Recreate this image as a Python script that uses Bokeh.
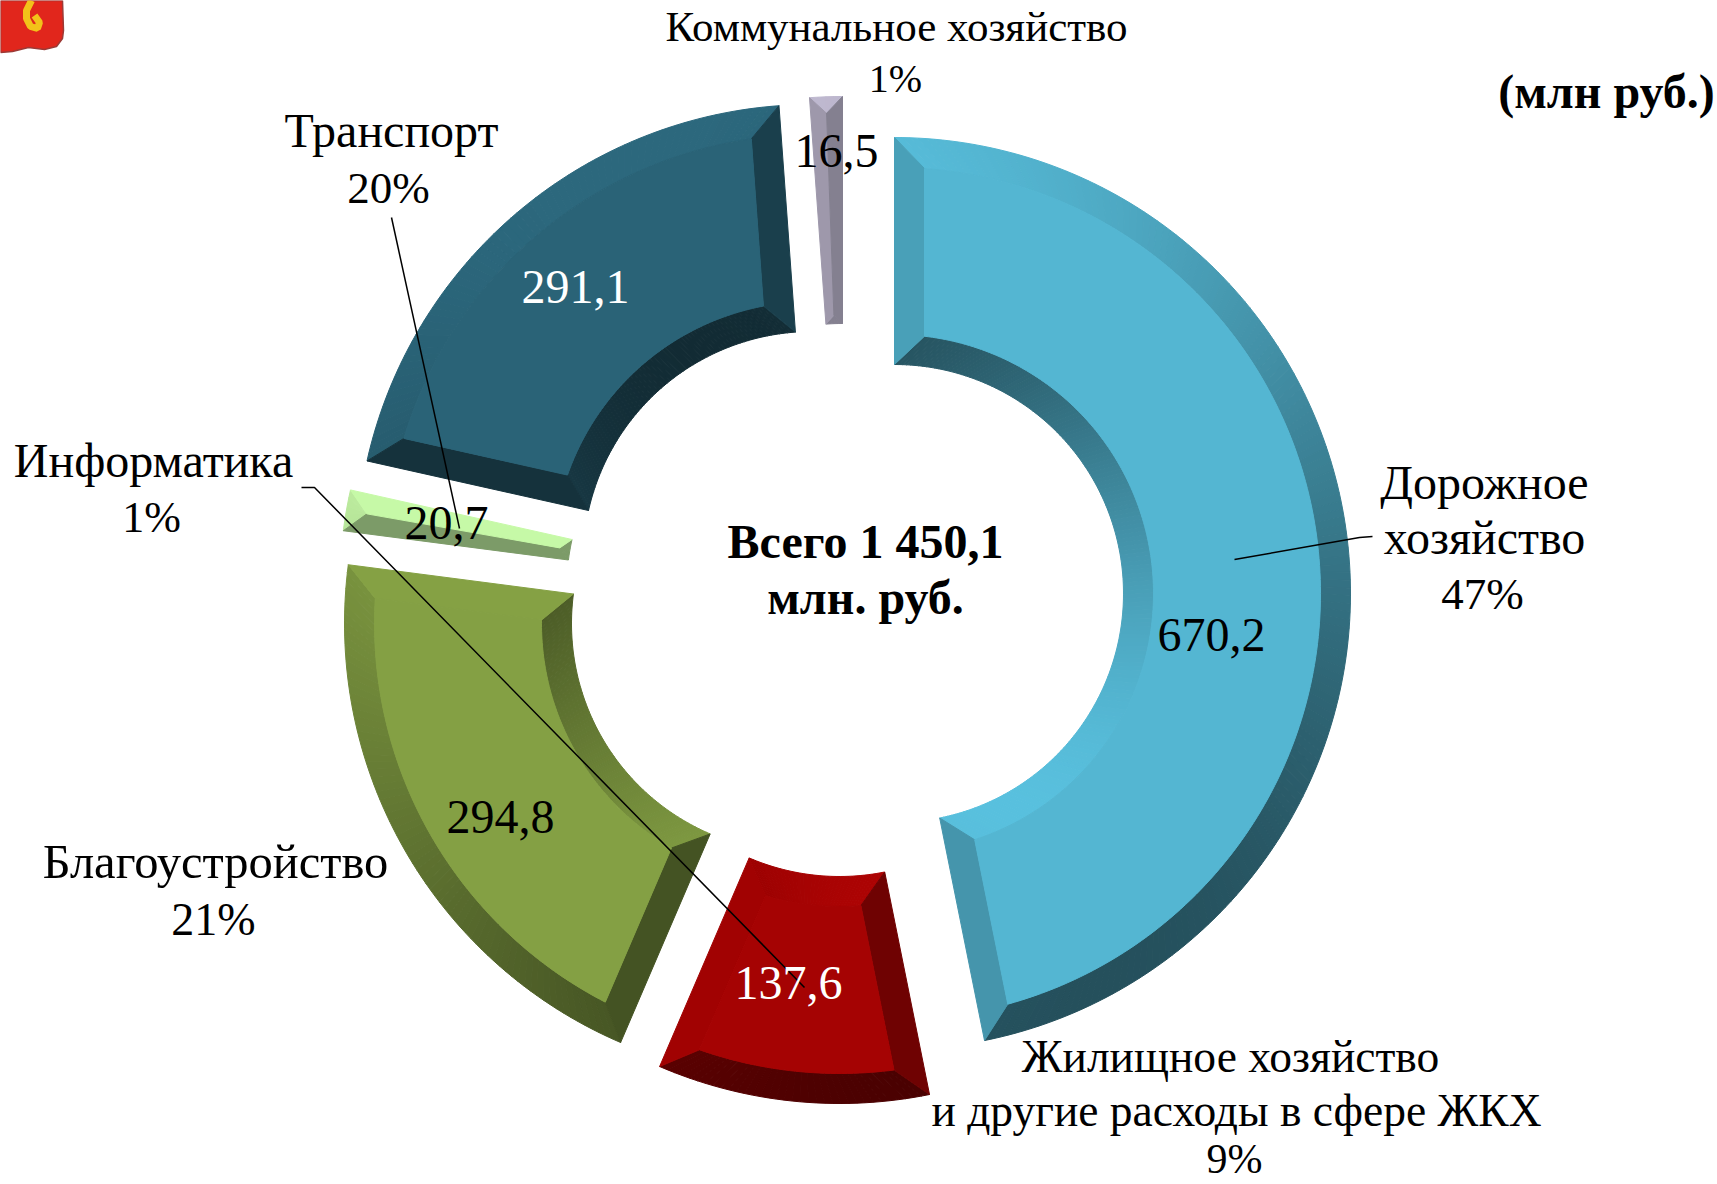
import numpy as np
from bokeh.plotting import figure
from bokeh.models import Range1d
from bokeh.core.properties import value
from bokeh.embed import file_html
from bokeh.resources import INLINE

# ---- data ----
categories = ["Дорожное хозяйство", "Жилищное хозяйство и другие расходы в сфере ЖКХ",
              "Благоустройство", "Информатика", "Транспорт", "Коммунальное хозяйство"]
amounts = [670.2, 137.6, 294.8, 20.7, 291.1, 16.5]
amount_labels = ["670,2", "137,6", "294,8", "20,7", "291,1", "16,5"]
shares = ["47%", "9%", "21%", "1%", "20%", "1%"]
total_label = "Всего 1 450,1"
total_unit = "млн. руб."
unit_label = "(млн руб.)"

# ---- style / layout (page pixels) ----
base_colors = ["#54b6d2", "#a50303", "#84a044", "#c8fba8", "#2a6377", "#b8b2c8"]
shade_floor = [0, 0, 0, 0.62, 0, 0.72]
amount_colors = ["black", "white", "black", "black", "white", "black"]
slice_centers = [(894, 593), (839, 647), (800, 623), (795, 589), (811.5, 560), (842, 552)]
amount_pos = [(1211, 634), (788, 982), (500, 816), (446, 522), (575, 286), (836, 150)]
R_OUT, R_IN, BEVEL = 456.0, 229.0, 30.0
FONT = value("Liberation Serif")


def shade(hex_color, nx, ny, floor=0.0):
    """Facet brightness from its outward normal (screen coords, y down)."""
    b = max(floor, 0.75 + 0.28 * (-ny) - 0.13 * nx)
    rgb = [int(hex_color[i:i + 2], 16) for i in (1, 3, 5)]
    rgb = [int(min(255, max(0, c * b))) for c in rgb]
    return "#%02x%02x%02x" % tuple(rgb)


def pt(c, rho, th):
    return c[0] + rho * np.sin(th), c[1] - rho * np.cos(th)


xs, ys, cols = [], [], []


def add(poly, col):
    xs.append([float(q[0]) for q in poly])
    ys.append([float(q[1]) for q in poly])
    cols.append(col)


total = sum(amounts)
start = 0.0
for val, c, base, fl in zip(amounts, slice_centers, base_colors, shade_floor):
    t1 = start
    t2 = start + val / total * 2 * np.pi
    start = t2
    hw = (t2 - t1) / 2
    bo, bi = min(BEVEL, R_OUT * hw), min(BEVEL, R_IN * hw)
    rf_o, rf_i = R_OUT - bo, R_IN + bi

    def off(rho):
        return min(np.arcsin(BEVEL / rho), hw)

    fo1, fo2 = t1 + off(rf_o), t2 - off(rf_o)
    fi1, fi2 = t1 + off(rf_i), t2 - off(rf_i)
    n = max(4, int((t2 - t1) / np.radians(1.0)))
    a = np.linspace(t1, t2, n + 1)
    ao = np.linspace(fo1, fo2, n + 1)
    ai = np.linspace(fi1, fi2, n + 1)
    for i in range(n):
        am = (a[i] + a[i + 1]) / 2
        add([pt(c, R_OUT, a[i]), pt(c, R_OUT, a[i + 1]), pt(c, rf_o, ao[i + 1]), pt(c, rf_o, ao[i])],
            shade(base, np.sin(am), -np.cos(am), fl))
        add([pt(c, R_IN, a[i]), pt(c, R_IN, a[i + 1]), pt(c, rf_i, ai[i + 1]), pt(c, rf_i, ai[i])],
            shade(base, -np.sin(am), np.cos(am), fl))
    add([pt(c, R_OUT, t1), pt(c, rf_o, fo1), pt(c, rf_i, fi1), pt(c, R_IN, t1)],
        shade(base, -np.cos(t1), -np.sin(t1), fl))
    add([pt(c, R_OUT, t2), pt(c, rf_o, fo2), pt(c, rf_i, fi2), pt(c, R_IN, t2)],
        shade(base, np.cos(t2), np.sin(t2), fl))
    if fo2 > fo1:
        ring_o = [pt(c, rf_o, x) for x in ao]
        ring_i = [pt(c, rf_i, x) for x in ai[::-1]]
        add(ring_o + ring_i, base)

p = figure(width=1717, height=1184, output_backend="svg", toolbar_location=None,
           x_range=Range1d(0, 1717), y_range=Range1d(1184, 0),
           x_axis_type=None, y_axis_type=None, min_border=0,
           outline_line_color=None, background_fill_color="white", border_fill_color="white")
p.grid.visible = False

# crest in the corner
p.patch([0, 62, 63, 62, 56, 44, 28, 12, 0], [0, 0, 30, 38, 46, 49, 47, 51, 52],
        fill_color="#e1261c", line_color="#9c3a36", line_width=1.5)
p.line([31, 26, 26, 30, 37, 39, 34], [0, 10, 18, 26, 28, 22, 15],
       line_color="#f2c21a", line_width=7)

p.patches(xs, ys, fill_color=cols, line_color=cols, line_width=1)

# leader lines
leaders = [([391, 459], [217, 528]),
           ([301, 314, 804], [487, 487, 987]),
           ([1372, 1359, 1234], [536, 537, 559])]
for lx, ly in leaders:
    p.line(lx, ly, line_color="black", line_width=1.5)


def lab(x, y, t, size=45, color="black", bold=False):
    p.text([x], [y], text=[t], text_font=FONT, text_font_size=f"{size}px", text_color=color,
           text_align="center", text_baseline="middle",
           text_font_style="bold" if bold else "normal")


for (x, y), t, col in zip(amount_pos, amount_labels, amount_colors):
    lab(x, y, t, 48, col)

lab(896, 26, "Коммунальное хозяйство", 43)
lab(895, 78, shares[5], 40)
lab(391, 130, "Транспорт", 48)
lab(388, 187, shares[4])
lab(153, 460, "Информатика", 48)
lab(151, 517, shares[3], 44)
lab(1484, 482, "Дорожное", 48)
lab(1484, 537, "хозяйство", 48)
lab(1482, 593, shares[0])
lab(215, 861, "Благоустройство", 48.5)
lab(213, 919, shares[2], 46)
lab(1230, 1056, "Жилищное хозяйство", 45.5)
lab(1236, 1110, "и другие расходы в сфере ЖКХ", 45.5)
lab(1234, 1158, shares[1], 42)
lab(865, 541, total_label, 48, bold=True)
lab(865, 597, total_unit, 48, bold=True)
lab(1606, 91, unit_label, 48, bold=True)

open("out.html", "w").write(file_html(p, INLINE))
